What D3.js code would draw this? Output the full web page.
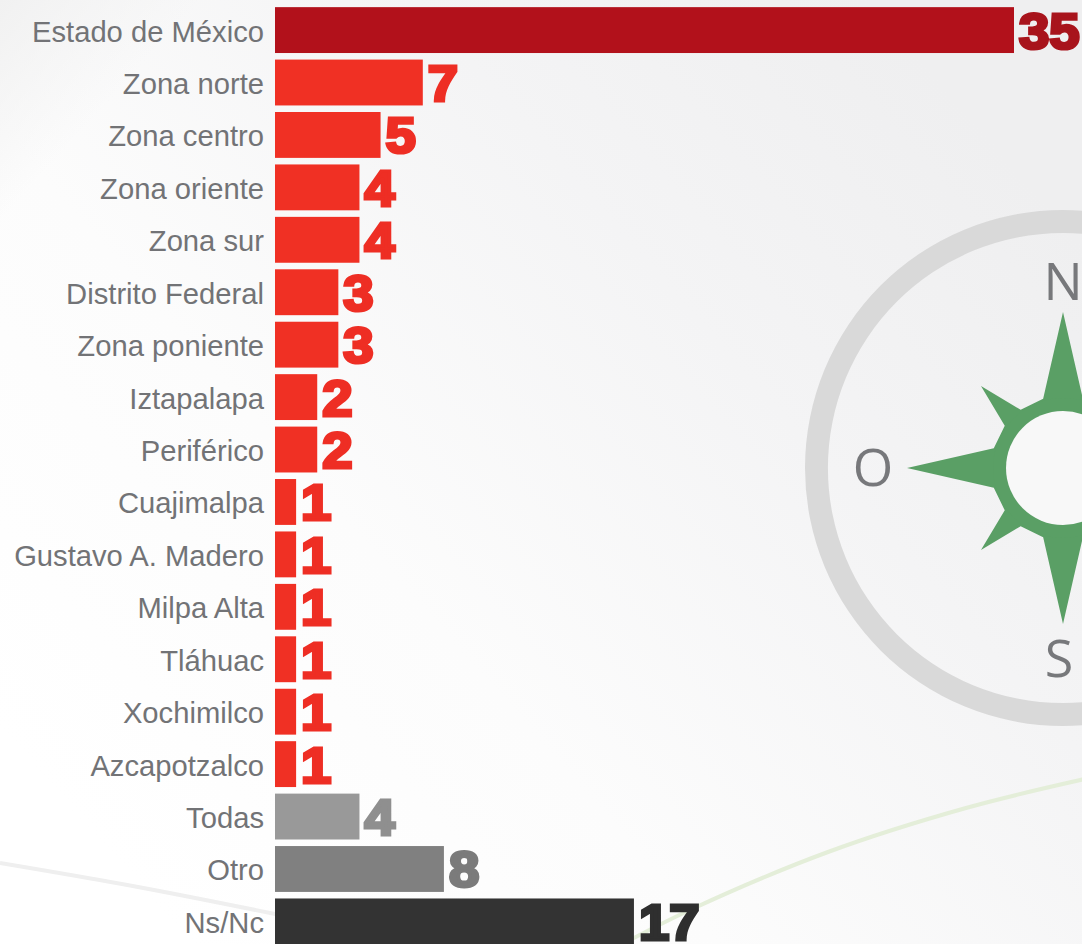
<!DOCTYPE html>
<html><head><meta charset="utf-8">
<script src="https://cdn.jsdelivr.net/npm/d3@7/dist/d3.min.js"></script>
<style>html,body{margin:0;padding:0;background:#fff;overflow:hidden}svg{display:block}</style>
</head><body><svg id="c" width="1082" height="944"></svg>
<script>
const categories=["Estado de México","Zona norte","Zona centro","Zona oriente","Zona sur","Distrito Federal","Zona poniente","Iztapalapa","Periférico","Cuajimalpa","Gustavo A. Madero","Milpa Alta","Tláhuac","Xochimilco","Azcapotzalco","Todas","Otro","Ns/Nc"];
const values=[35,7,5,4,4,3,3,2,2,1,1,1,1,1,1,4,8,17];
const barColors=["#b2111b","#f03024","#f03024","#f03024","#f03024","#f03024","#f03024","#f03024","#f03024","#f03024","#f03024","#f03024","#f03024","#f03024","#f03024","#999999","#808080","#333333"];
const labelColors=["#a8141c","#ee2e24","#ee2e24","#ee2e24","#ee2e24","#ee2e24","#ee2e24","#ee2e24","#ee2e24","#ee2e24","#ee2e24","#ee2e24","#ee2e24","#ee2e24","#ee2e24","#8f8f8f","#7b7b7b","#2f2f2f"];
const compassLetters=["N","O","S"];

const W=1082,H=944;
const svg=d3.select("#c");
const defs=svg.append("defs");
const g=defs.append("linearGradient").attr("id","bg").attr("gradientUnits","userSpaceOnUse")
 .attr("x1",150).attr("y1",900).attr("x2",1000).attr("y2",150);
[[0,"#ffffff"],[.35,"#fcfcfc"],[.7,"#f4f4f5"],[1,"#efeff0"]].forEach(s=>g.append("stop").attr("offset",s[0]).attr("stop-color",s[1]));
const g2=defs.append("linearGradient").attr("id","corner").attr("gradientUnits","userSpaceOnUse")
 .attr("x1",0).attr("y1",0).attr("x2",110).attr("y2",100);
[[0,"#f1f1f1",1],[1,"#f1f1f1",0]].forEach(s=>g2.append("stop").attr("offset",s[0]).attr("stop-color",s[1]).attr("stop-opacity",s[2]));
svg.append("rect").attr("width",W).attr("height",H).attr("fill","url(#bg)");
svg.append("rect").attr("width",W).attr("height",H).attr("fill","url(#corner)");

// background swooshes
const curve=d3.line().curve(d3.curveCatmullRom);
svg.append("path").attr("d",curve([[0,863],[138,887],[280,915]])).attr("fill","none").attr("stroke","#efefef").attr("stroke-width",4);
svg.append("path").attr("d",curve([[615,948],[690,910],[828,852],[966,808],[1085,779]])).attr("fill","none").attr("stroke","#e4eed9").attr("stroke-width",4);

// compass
const cx=1063,cy=468;
const cg=svg.append("g").attr("transform",`translate(${cx},${cy})`);
cg.append("path").attr("d",d3.arc()({innerRadius:235,outerRadius:258,startAngle:0,endAngle:2*Math.PI})).attr("fill","#d9d9d9");
const compassGreen="#5a9f65";
const ptr=(deg,r)=>d3.pointRadial(deg*Math.PI/180,r);
const star=[];
[0,90,180,270].forEach(a=>{
  star.push(ptr(a-16,72),ptr(a,156),ptr(a+16,72));
  star.push(ptr(a+36,72),ptr(a+45,116),ptr(a+54,72));
});
cg.append("path").attr("d",d3.line()(star)+"Z").attr("fill",compassGreen);
cg.append("circle").attr("r",70).attr("fill",compassGreen);
cg.append("circle").attr("r",57).attr("fill","#f8f8f8");
const letterPos=[[0,-168],[-190,18],[-4,209]];
cg.selectAll("text").data(compassLetters).join("text")
 .attr("x",(d,i)=>letterPos[i][0]).attr("y",(d,i)=>letterPos[i][1])
 .attr("text-anchor","middle").attr("font-family","'Open Sans'").attr("font-size",52).attr("fill","#77787b").text(d=>d);

// bars
const x=d3.scaleLinear().domain([0,35]).range([275,1014]);
const y=d3.scaleBand().domain(categories).range([4,947.5]).paddingInner(.125).paddingOuter(.06);
const rows=categories.map((c,i)=>({c,v:values[i],col:barColors[i],lc:labelColors[i]}));
svg.append("g").selectAll("rect").data(rows).join("rect")
 .attr("x",x(0)).attr("y",d=>y(d.c)).attr("width",d=>x(d.v)-x(0)).attr("height",y.bandwidth()).attr("fill",d=>d.col);
svg.append("g").selectAll("text").data(rows).join("text")
 .attr("x",264).attr("y",d=>y(d.c)+y.bandwidth()/2+11.5).attr("text-anchor","end")
 .attr("font-family","'Liberation Sans'").attr("font-size",29.2).attr("fill","#727376").text(d=>d.c);
svg.append("g").selectAll("text").data(rows).join("text")
 .attr("transform",d=>`translate(${x(d.v)+5},${y(d.c)+y.bandwidth()/2+18.5}) scale(1.1,1)`)
 .attr("font-family","'Liberation Sans'").attr("font-weight",700).attr("font-size",49.5)
 .attr("fill",d=>d.lc).attr("stroke",d=>d.lc).attr("stroke-width",3.2).attr("stroke-linejoin","miter").text(d=>d.v);
</script></body></html>
